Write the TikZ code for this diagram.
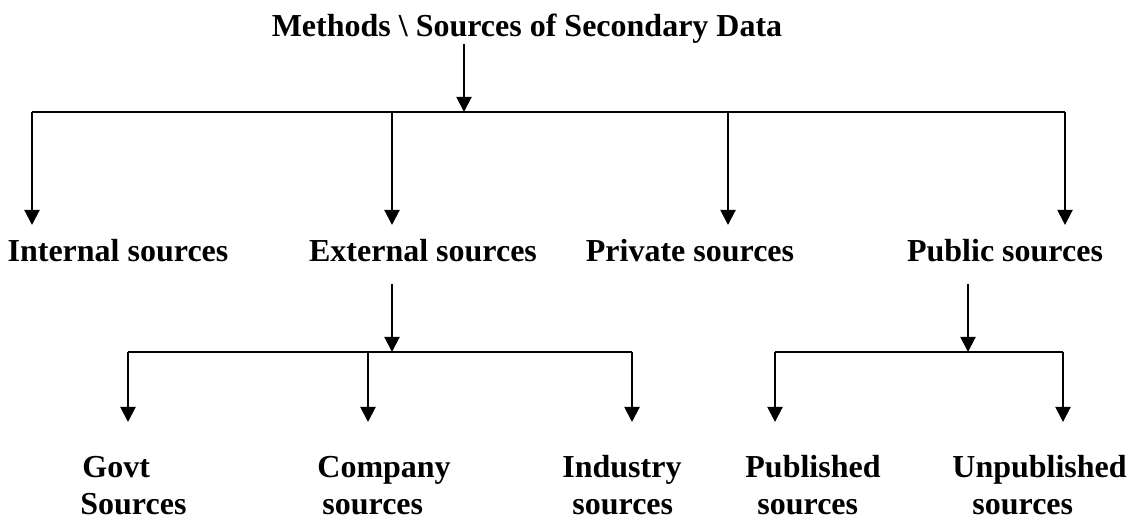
\documentclass[tikz,border=0pt]{standalone}
\usepackage{fontspec}
\setmainfont{Liberation Serif}
\usetikzlibrary{arrows.meta}

\begin{document}
\begin{tikzpicture}[
    x=0.5pt, y=-0.5pt,
    lbl/.style={font=\fontsize{16}{18.5}\selectfont\bfseries, inner sep=0pt, anchor=base},
    sub/.style={lbl, align=left, anchor=base west},
    bar/.style={line width=1pt},
    arr/.style={line width=1pt, -{Triangle[width=7.5pt,length=7.5pt]}}
  ]
  \useasboundingbox (0,0) rectangle (1128,522);

  % titel
  \node[lbl] (title) at (527,37) {Methods \textbackslash\ Sources of Secondary Data};

  % erste Ebene
  \node[lbl] (int) at (118,262) {Internal sources};
  \node[lbl] (ext) at (423,262) {External sources};
  \node[lbl] (pri) at (690,262) {Private sources};
  \node[lbl] (pub) at (1005,262) {Public sources};

  % zweite Ebene
  \node[sub] (gov) at (80,515) {\hspace*{1pt}Govt\\Sources};
  \node[sub] (com) at (317,515) {Company\\\hspace*{2.5pt}sources};
  \node[sub] (ind) at (562,515) {Industry\\\hspace*{5pt}sources};
  \node[sub] (pbl) at (745,515) {Published\\\hspace*{6pt}sources};
  \node[sub] (unp) at (952,515) {Unpublished\\\hspace*{10pt}sources};

  \coordinate (lv1) at (0,225);
  \coordinate (lv2) at (0,422);

  % oberer Balken
  \coordinate (top) at (464,112);
  \coordinate (b1) at (32,112);
  \coordinate (b2) at (392,112);
  \coordinate (b3) at (728,112);
  \coordinate (b4) at (1065,112);
  \draw[arr] (title.south -| top) -- (top);
  \draw[bar] (b1) -- (b4);
  \foreach \b in {b1,b2,b3,b4}
    \draw[arr] (\b) -- (\b |- lv1);

  % externe Quellen
  \coordinate (e0) at (392,352);
  \coordinate (e1) at (128,352);
  \coordinate (e2) at (368,352);
  \coordinate (e3) at (632,352);
  \draw[arr] ([yshift=-10.5pt]ext.south -| e0) -- (e0);
  \draw[bar] (e1) -- (e3);
  \foreach \b in {e1,e2,e3}
    \draw[arr] (\b) -- (\b |- lv2);

  % oeffentliche Quellen
  \coordinate (p0) at (968,352);
  \coordinate (p1) at (775,352);
  \coordinate (p2) at (1063,352);
  \draw[arr] ([yshift=-10.5pt]pub.south -| p0) -- (p0);
  \draw[bar] (p1) -- (p2);
  \foreach \b in {p1,p2}
    \draw[arr] (\b) -- (\b |- lv2);
\end{tikzpicture}
\end{document}
